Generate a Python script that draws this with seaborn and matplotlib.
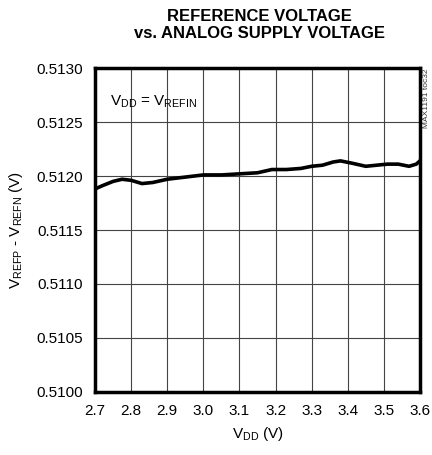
import numpy as np
import pandas as pd
import matplotlib
matplotlib.use('Agg')
import matplotlib.pyplot as plt
import seaborn as sns

# data
vdd = [2.70, 2.72, 2.75, 2.775, 2.80, 2.83, 2.86, 2.90, 2.95, 3.00, 3.05, 3.10,
       3.15, 3.19, 3.23, 3.27, 3.30, 3.33, 3.36, 3.38, 3.41, 3.45, 3.48, 3.51,
       3.54, 3.57, 3.59, 3.60]
vref = [0.51188, 0.51191, 0.51195, 0.51197, 0.51196, 0.51193, 0.51194, 0.51197,
        0.51199, 0.51201, 0.51201, 0.51202, 0.51203, 0.51206, 0.51206, 0.51207,
        0.51209, 0.51210, 0.51213, 0.51214, 0.51212, 0.51209, 0.51210, 0.51211,
        0.51211, 0.51209, 0.51211, 0.51214]
xticks = [2.7, 2.8, 2.9, 3.0, 3.1, 3.2, 3.3, 3.4, 3.5, 3.6]
yticks = [0.5100, 0.5105, 0.5110, 0.5115, 0.5120, 0.5125, 0.5130]

df = pd.DataFrame({'vdd': vdd, 'vref': vref})

sns.set_style('white')
font = ['Liberation Sans', 'DejaVu Sans']
plt.rcParams['font.family'] = font
plt.rcParams['mathtext.default'] = 'regular'
plt.rcParams['text.color'] = 'black'
plt.rcParams['axes.labelcolor'] = 'black'
plt.rcParams['xtick.color'] = 'black'
plt.rcParams['ytick.color'] = 'black'

fig = plt.figure(figsize=(4.32, 4.55), dpi=100)
ax = fig.add_axes([0.22, 0.1385, 0.752, 0.712])

sns.lineplot(data=df, x='vdd', y='vref', ax=ax, color='black', linewidth=2.6)

ax.set_xlim(2.7, 3.6)
ax.set_ylim(0.5100, 0.5130)
ax.set_xticks(xticks)
ax.set_xticklabels([f'{t:.1f}' for t in xticks], fontsize=11)
ax.set_yticks(yticks)
ax.set_yticklabels([f'{t:.4f}' for t in yticks], fontsize=11)
ax.tick_params(length=0, pad=9)
ax.grid(True, color='#444444', linewidth=0.8)
for s in ax.spines.values():
    s.set_linewidth(2.5)
    s.set_color('black')

ax.set_xlabel('V$_{DD}$ (V)', fontsize=11, labelpad=5)
ax.set_ylabel('V$_{REFP}$ - V$_{REFN}$ (V)', fontsize=11, labelpad=8)
ax.text(0.045, 0.92, 'V$_{DD}$ = V$_{REFIN}$', transform=ax.transAxes,
        fontsize=11, va='top', ha='left')

fig.text(0.6, 0.98, 'REFERENCE VOLTAGE\nvs. ANALOG SUPPLY VOLTAGE', ha='center',
         va='top', fontsize=12, fontweight='bold', linespacing=1.15)
fig.text(0.988, 0.85, 'MAX1191 toc32', rotation=90, ha='center', va='top',
         fontsize=6, color='#333333')

plt.savefig('out.png', dpi=100)
